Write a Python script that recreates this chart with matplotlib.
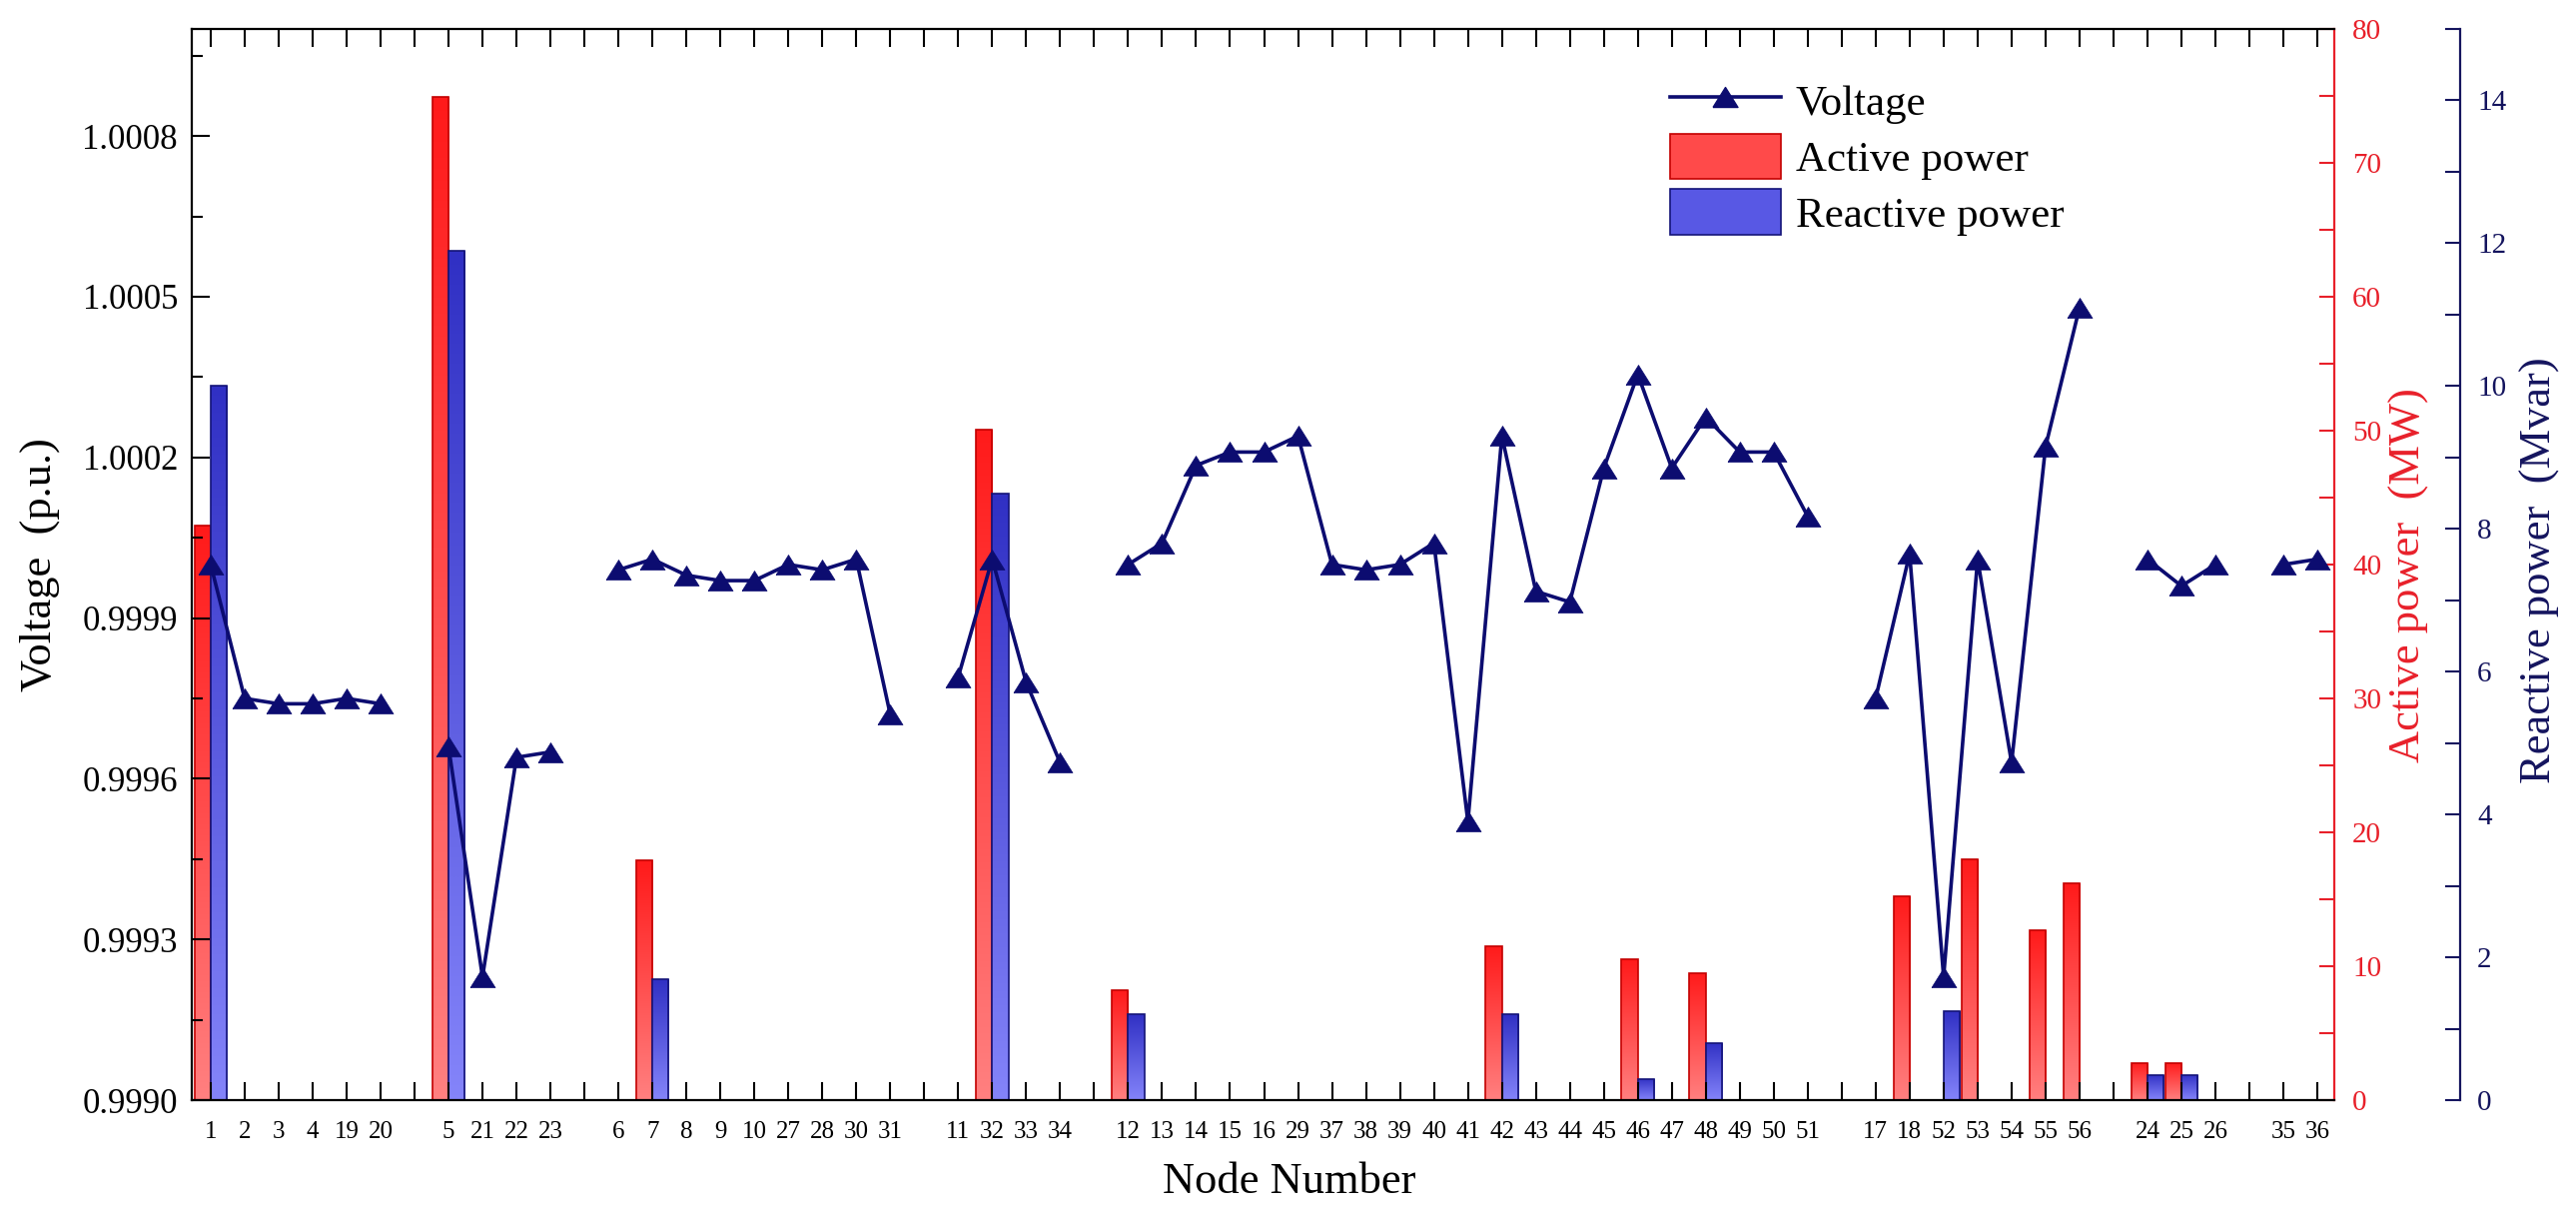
import numpy as np
import matplotlib
matplotlib.use("Agg")
import matplotlib.pyplot as plt
from matplotlib.colors import LinearSegmentedColormap
from matplotlib.ticker import FixedLocator, FormatStrFormatter, MultipleLocator
from matplotlib.patches import Patch
from matplotlib.lines import Line2D

plt.rcParams['font.family'] = ['Liberation Serif', 'DejaVu Serif']

# ---------------- data ----------------
group_sizes = [6, 4, 9, 4, 21, 7, 3, 2]

node_labels = ['1', '2', '3', '4', '19', '20',
               '5', '21', '22', '23',
               '6', '7', '8', '9', '10', '27', '28', '30', '31',
               '11', '32', '33', '34',
               '12', '13', '14', '15', '16', '29', '37', '38', '39', '40', '41',
               '42', '43', '44', '45', '46', '47', '48', '49', '50', '51',
               '17', '18', '52', '53', '54', '55', '56',
               '24', '25', '26',
               '35', '36']

voltage = [1.00000, 0.99975, 0.99974, 0.99974, 0.99975, 0.99974,
           0.99966, 0.99923, 0.99964, 0.99965,
           0.99999, 1.00001, 0.99998, 0.99997, 0.99997, 1.00000, 0.99999, 1.00001, 0.99972,
           0.99979, 1.00001, 0.99978, 0.99963,
           1.00000, 1.00004, 1.000185, 1.00021, 1.00021, 1.00024, 1.00000, 0.99999, 1.00000,
           1.00004, 0.99952, 1.00024, 0.99995, 0.99993, 1.00018, 1.000355, 1.00018,
           1.000275, 1.00021, 1.00021, 1.00009,
           0.99975, 1.00002, 0.99923, 1.00001, 0.99963, 1.00022, 1.00048,
           1.00001, 0.99996, 1.00000,
           1.00000, 1.00001]

active_power = [42.9, 0, 0, 0, 0, 0,
                74.9, 0, 0, 0,
                0, 17.9, 0, 0, 0, 0, 0, 0, 0,
                0, 50.1, 0, 0,
                8.2, 0, 0, 0, 0, 0, 0, 0, 0, 0, 0, 11.5, 0, 0, 0, 10.5, 0, 9.5, 0, 0, 0,
                0, 15.2, 0, 18.0, 0, 12.7, 16.2,
                2.8, 2.8, 0,
                0, 0]

reactive_power = [10.0, 0, 0, 0, 0, 0,
                  11.9, 0, 0, 0,
                  0, 1.7, 0, 0, 0, 0, 0, 0, 0,
                  0, 8.5, 0, 0,
                  1.2, 0, 0, 0, 0, 0, 0, 0, 0, 0, 0, 1.2, 0, 0, 0, 0.3, 0, 0.8, 0, 0, 0,
                  0, 0, 1.25, 0, 0, 0, 0,
                  0.35, 0.35, 0,
                  0, 0]

voltage_ticks = [0.9990, 0.9993, 0.9996, 0.9999, 1.0002, 1.0005, 1.0008]

# ---------------- layout helpers ----------------
positions = []
p = 1
for g in group_sizes:
    positions.extend(range(p, p + g))
    p += g + 1
positions = np.array(positions, dtype=float)
n_slots = int(positions[-1])

NAVY = '#0c0c70'
RED_AX = '#e8202a'
BLUE_AX = '#14145e'

fig = plt.figure(figsize=(25.79, 12.32), dpi=100, facecolor='white')
ax1 = fig.add_axes([0.0744, 0.1063, 0.8318, 0.8702])
ax2 = ax1.twinx()
ax3 = ax1.twinx()

ax1.set_zorder(5)
ax1.patch.set_visible(False)


def gradient_fill(ax, bars, c_top, c_bot):
    cmap = LinearSegmentedColormap.from_list('g', [c_bot, c_top])
    grad = np.linspace(0, 1, 256).reshape(-1, 1)
    for b in bars:
        h = b.get_height()
        if h <= 0:
            continue
        x0, y0, w = b.get_x(), b.get_y(), b.get_width()
        im = ax.imshow(grad, extent=[x0, x0 + w, y0, y0 + h], origin='lower',
                       aspect='auto', cmap=cmap, interpolation='bilinear',
                       zorder=b.get_zorder() - 0.1)
        im.set_clip_path(b)
        b.set_facecolor('none')


bw = 0.48
red_bars = ax2.bar(positions - bw, active_power, width=bw, align='edge',
                   color='#ff4040', edgecolor='#c40000', linewidth=1.2, zorder=2)
blue_bars = ax3.bar(positions, reactive_power, width=bw, align='edge',
                    color='#5050e0', edgecolor='#141478', linewidth=1.2, zorder=2)
gradient_fill(ax2, red_bars, '#ff1a1a', '#ff8080')
gradient_fill(ax3, blue_bars, '#3030c4', '#8484fa')

# voltage line, broken between groups
tri = [(-1, -0.8), (1, -0.8), (0, 0.8), (-1, -0.8)]
start = 0
vline = None
for g in group_sizes:
    sl = slice(start, start + g)
    vline, = ax1.plot(positions[sl], voltage[sl], color=NAVY, lw=2.6,
                      marker=tri, markersize=18, markerfacecolor=NAVY,
                      markeredgecolor=NAVY, markeredgewidth=0.5, zorder=4)
    start += g

# ---------------- axes ----------------
ax1.set_xlim(0.44, n_slots + 0.5)
ax1.set_ylim(0.9990, 1.0010)
ax2.set_ylim(0, 80)
ax3.set_ylim(0, 15)

tick_pos = np.arange(1, n_slots + 1)
label_map = dict(zip(positions.astype(int), node_labels))
ax1.set_xticks(tick_pos)
ax1.set_xticklabels([label_map.get(int(t), '') for t in tick_pos])
ax1.tick_params(axis='x', which='major', direction='in', length=13, width=1.5,
                top=True, bottom=True, labelsize=18, pad=15, colors='black')

ax1.yaxis.set_major_locator(FixedLocator(voltage_ticks))
ax1.yaxis.set_minor_locator(FixedLocator([round(v + 0.00015, 5) for v in voltage_ticks]))
ax1.yaxis.set_major_formatter(FormatStrFormatter('%.4f'))
ax1.tick_params(axis='y', which='major', direction='in', length=13, width=1.5,
                labelsize=25, pad=10, left=True, right=False)
ax1.tick_params(axis='y', which='minor', direction='in', length=8, width=1.5,
                left=True, right=False)

ax2.yaxis.set_major_locator(MultipleLocator(10))
ax2.yaxis.set_minor_locator(MultipleLocator(5))
ax2.tick_params(axis='y', which='both', direction='in', length=11, width=1.5,
                color=RED_AX, labelcolor=RED_AX, labelsize=21, pad=13)

ax3.spines['right'].set_position(('outward', 91))
ax3.yaxis.set_major_locator(MultipleLocator(2))
ax3.yaxis.set_minor_locator(MultipleLocator(1))
ax3.tick_params(axis='y', which='both', direction='in', length=11, width=1.5,
                color=BLUE_AX, labelcolor=BLUE_AX, labelsize=21, pad=12)

for s in ['left', 'top', 'bottom']:
    ax1.spines[s].set_linewidth(1.6)
    ax1.spines[s].set_color('black')
ax1.spines['right'].set_visible(False)
for s in ['left', 'top', 'bottom']:
    ax2.spines[s].set_visible(False)
    ax3.spines[s].set_visible(False)
ax2.spines['right'].set_color(RED_AX)
ax2.spines['right'].set_linewidth(1.6)
ax3.spines['right'].set_color(BLUE_AX)
ax3.spines['right'].set_linewidth(1.6)

# labels
ax1.set_ylabel('Voltage  (p.u.)', fontsize=32)
ax1.yaxis.set_label_coords(-0.0615, 0.5)
ax1.set_xlabel('Node Number', fontsize=32)
ax1.xaxis.set_label_coords(0.5124, -0.058)
ax2.set_ylabel('Active power  (MW)', fontsize=32, color=RED_AX)
ax2.yaxis.set_label_coords(1.0252, 0.49)
ax3.set_ylabel('Reactive power  (Mvar)', fontsize=32, color=BLUE_AX)
ax3.yaxis.set_label_coords(1.0867, 0.495)

# legend
handles = [Line2D([], [], color=NAVY, lw=2.6, marker=tri, markersize=18,
                  markerfacecolor=NAVY, markeredgecolor=NAVY),
           Patch(facecolor='#ff4a4a', edgecolor='#c40000', linewidth=1.2),
           Patch(facecolor='#5858e4', edgecolor='#141478', linewidth=1.2)]
ax1.legend(handles, ['Voltage', 'Active power', 'Reactive power'],
           loc='upper left', bbox_to_anchor=(0.690, 0.954), frameon=False,
           fontsize=31, handlelength=2.57, handleheight=1.24,
           handletextpad=0.35, labelspacing=0.22, borderpad=0, borderaxespad=0)

fig.savefig('out.png', dpi=100, facecolor='white')
